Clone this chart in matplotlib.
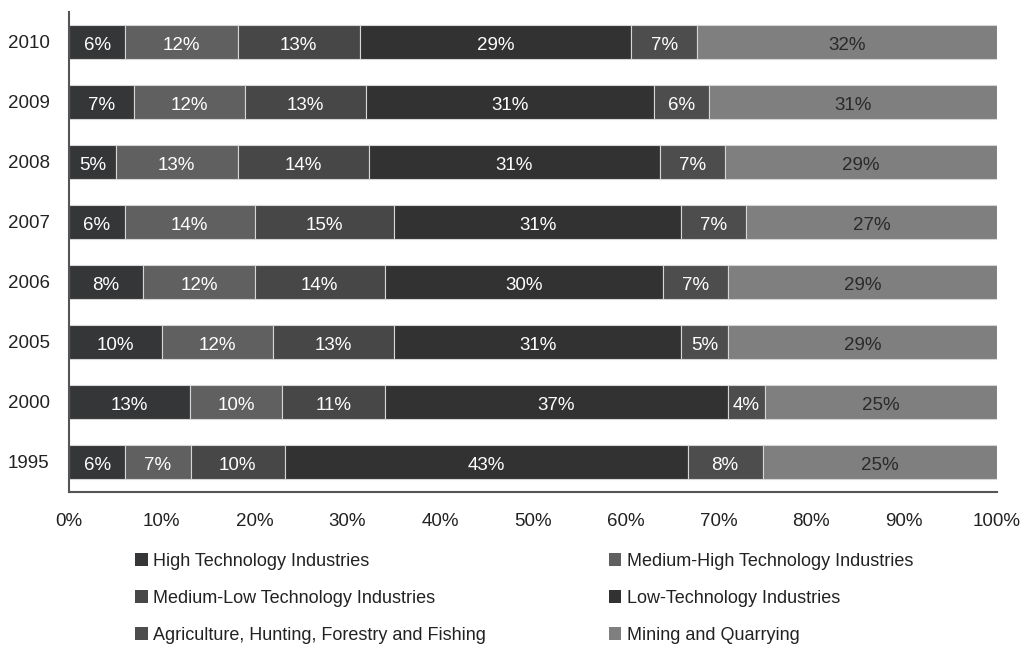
import matplotlib
matplotlib.use("Agg")
import matplotlib.pyplot as plt
import matplotlib.transforms as mtransforms
from matplotlib.patches import Patch
import numpy as np

years = ["1995", "2000", "2005", "2006", "2007", "2008", "2009", "2010"]
sectors = [
    "High Technology Industries",
    "Medium-High Technology Industries",
    "Medium-Low Technology Industries",
    "Low-Technology Industries",
    "Agriculture, Hunting, Forestry and Fishing",
    "Mining and Quarrying",
]
high_tech = [6, 13, 10, 8, 6, 5, 7, 6]
medium_high = [7, 10, 12, 12, 14, 13, 12, 12]
medium_low = [10, 11, 13, 14, 15, 14, 13, 13]
low_tech = [43, 37, 31, 30, 31, 31, 31, 29]
agriculture = [8, 4, 5, 7, 7, 7, 6, 7]
mining = [25, 25, 29, 29, 27, 29, 31, 32]

colors = ["#353638", "#606060", "#464746", "#323232", "#4c4d4c", "#7f7f7f"]
label_colors = ["white", "white", "white", "white", "white", "#2a2a2a"]

plt.rcParams["font.family"] = ["Liberation Sans", "DejaVu Sans"]

fig = plt.figure(figsize=(10.22, 6.45), dpi=100)
ax = fig.add_axes([69 / 1022, 1 - 492 / 645, (997 - 69) / 1022, 480 / 645])

# labels sit on the visual middle of each segment
nudge = mtransforms.ScaledTranslation(0, -2.5 / 72, fig.dpi_scale_trans)
label_shift = ax.transData + nudge

series = [high_tech, medium_high, medium_low, low_tech, agriculture, mining]
data = np.array(series, dtype=float)
shares = data / data.sum(axis=0) * 100
y = np.arange(len(years))
left = np.zeros(len(years))
for i, name in enumerate(sectors):
    ax.barh(y, shares[i], left=left, height=0.57, color=colors[i],
            edgecolor="#d6d6d6", linewidth=0.8)
    for j in range(len(years)):
        ax.text(left[j] + shares[i][j] / 2, y[j], f"{series[i][j]}%",
                ha="center", va="center", color=label_colors[i], fontsize=13.5,
                transform=label_shift)
    left += shares[i]

ax.set_xlim(0, 100)
ax.set_ylim(-0.5, 7.5)
ax.set_yticks(y)
ax.set_yticklabels(years, fontsize=13.5, color="#222222", va="center_baseline")
ax.set_xticks(np.arange(0, 101, 10))
ax.set_xticklabels([f"{v}%" for v in range(0, 101, 10)], fontsize=13.5, color="#222222")
ax.tick_params(length=0, pad=14)
ax.tick_params(axis="x", pad=15)
for s in ["top", "right"]:
    ax.spines[s].set_visible(False)
for s in ["left", "bottom"]:
    ax.spines[s].set_color("#555555")
    ax.spines[s].set_linewidth(1.5)

order = [0, 2, 4, 1, 3, 5]
handles = [Patch(facecolor=colors[k], edgecolor="none") for k in order]
leg = fig.legend(handles, [sectors[k] for k in order],
                 ncol=2, loc="upper left", bbox_to_anchor=(135 / 1022, 1 - 553 / 645),
                 frameon=False, fontsize=13, handlelength=0.7, handleheight=0.7,
                 handletextpad=0.3, labelspacing=1.1, columnspacing=6.8,
                 borderaxespad=0, borderpad=0)
for t in leg.get_texts():
    t.set_color("#222222")

fig.savefig("out.png", dpi=100)
